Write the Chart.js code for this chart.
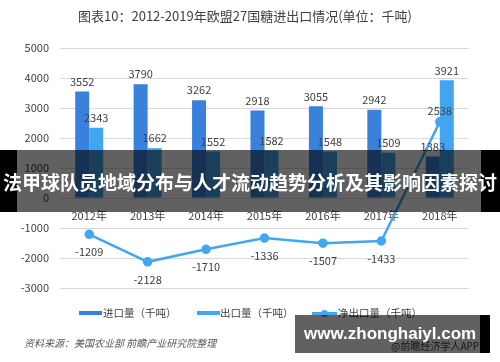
<!DOCTYPE html>
<html><head><meta charset="utf-8">
<script src="https://cdn.jsdelivr.net/npm/chart.js@4"></script>
<style>
html,body{margin:0;padding:0;background:#fff;}
#wrap{position:relative;width:500px;height:362px;overflow:hidden;font-family:"Noto Sans CJK SC","Noto Sans",sans-serif;}
#c{position:absolute;left:0;top:0;}
.abs{position:absolute;white-space:nowrap;}
#title{left:0;width:490px;top:7px;text-align:center;font-size:13px;color:#404040;line-height:18px;}
.lg{font-size:10.5px;color:#404040;line-height:14px;top:306px;}
.sw{position:absolute;}
#src{left:24px;top:336px;font-size:10px;color:#595959;font-style:italic;line-height:14px;}
#app{left:391px;top:339px;font-size:10px;color:#404040;line-height:14px;}
#banner{left:0;top:150px;width:500px;height:62px;}
#wm{left:295px;top:315px;width:195px;height:38px;}
</style></head>
<body><div id="wrap">
<canvas id="c" width="500" height="362"></canvas>
<div id="title" class="abs">图表10：2012-2019年欧盟27国糖进出口情况(单位：千吨)</div>
<div class="sw" style="left:79px;top:311px;width:23px;height:4px;background:#3a80dd"></div>
<div class="abs lg" style="left:103px">进口量（千吨）</div>
<div class="sw" style="left:197px;top:311px;width:23px;height:4px;background:#42a5f0"></div>
<div class="abs lg" style="left:220px">出口量（千吨）</div>
<div class="sw" style="left:312px;top:312px;width:25px;height:2.5px;background:#41a8f0"></div>
<div class="sw" style="left:321px;top:310px;width:7px;height:7px;border-radius:50%;background:#41a8f0"></div>
<div class="abs lg" style="left:338px">净出口量（千吨）</div>
<div id="src" class="abs">资料来源：美国农业部 前瞻产业研究院整理</div>
<div id="app" class="abs">@前瞻经济学人APP</div>
<div id="banner" class="abs">
  <div class="sw" style="left:0;top:0;width:17px;height:62px;background:#000"></div>
  <div class="sw" style="left:17px;top:0;width:464px;height:62px;background:rgba(0,0,0,0.62)"></div>
  <div class="sw" style="left:481px;top:0;width:19px;height:62px;background:#000"></div>
  <div class="abs" style="left:0;width:500px;top:19px;text-align:center;color:#fff;font-weight:bold;font-size:19px;line-height:26px;letter-spacing:0px;">法甲球队员地域分布与人才流动趋势分析及其影响因素探讨</div>
</div>
<div id="wm" class="abs">
  <div class="sw" style="left:0;top:0;width:185px;height:38px;background:rgba(0,0,0,0.62)"></div>
  <div class="sw" style="left:185px;top:0;width:10px;height:38px;background:#000"></div>
  <div class="abs" style="left:9px;top:8px;color:#fff;font-weight:bold;font-size:17px;line-height:22px;font-family:'Liberation Sans',Arial,sans-serif;">www.zhonghaiyl.com</div>
</div>
</div>
<script>
const categories = ['2012年','2013年','2014年','2015年','2016年','2017年','2018年'];
const importValues = [3552, 3790, 3262, 2918, 3055, 2942, 1383];
const exportValues = [2343, 1662, 1552, 1582, 1548, 1509, 3921];
const netValues = [-1209, -2128, -1710, -1336, -1507, -1433, 2538];
const yTicks = [-3000, -2000, -1000, 0, 1000, 2000, 3000, 4000, 5000];

const labelPlugin = {
  id: 'valueLabels',
  afterDatasetsDraw(chart) {
    const ctx = chart.ctx;
    ctx.save();
    ctx.font = '11px "Noto Sans CJK SC", "Noto Sans", sans-serif';
    ctx.fillStyle = '#404040';
    ctx.textAlign = 'center';
    ctx.textBaseline = 'middle';
    chart.data.datasets.forEach((ds, di) => {
      const meta = chart.getDatasetMeta(di);
      meta.data.forEach((el, i) => {
        const v = ds.data[i];
        let y;
        if (ds.type === 'line') {
          y = v < 0 ? el.y + 18 : el.y - 11;
        } else {
          y = el.y - 10;
        }
        ctx.fillText(String(v), el.x, y);
      });
    });
    ctx.restore();
  }
};

new Chart(document.getElementById('c'), {
  data: {
    labels: categories,
    datasets: [
      { type: 'bar', label: '进口量（千吨）', data: importValues, backgroundColor: '#3a80dd', order: 2,
        categoryPercentage: 0.48, barPercentage: 1.0 },
      { type: 'bar', label: '出口量（千吨）', data: exportValues, backgroundColor: '#42a5f0', order: 2,
        categoryPercentage: 0.48, barPercentage: 1.0 },
      { type: 'line', label: '净出口量（千吨）', data: netValues, borderColor: '#41a8f0', backgroundColor: '#41a8f0',
        borderWidth: 2.5, pointRadius: 3.5, pointHoverRadius: 3.5, tension: 0, order: 0 }
    ]
  },
  options: {
    responsive: false,
    animation: false,
    events: [],
    layout: { padding: { left: 0, right: 31, top: 48, bottom: 74 } },
    plugins: { legend: { display: false }, tooltip: { enabled: false } },
    scales: {
      x: {
        type: 'category',
        position: { y: 0 },
        grid: { display: false, drawTicks: true, tickLength: 8 },
        border: { display: false },
        ticks: { color: '#404040', font: { size: 11, family: '"Noto Sans CJK SC", "Noto Sans", sans-serif' }, padding: 3, maxRotation: 0 }
      },
      y: {
        min: -3000, max: 5000,
        afterFit: s => { s.width = 60; },
        afterBuildTicks: s => { s.ticks = yTicks.map(v => ({ value: v })); },
        grid: { color: '#d9d9d9', drawTicks: false, lineWidth: 1 },
        border: { display: false },
        ticks: { color: '#404040', padding: 11, callback: v => String(v),
                 font: { size: 11, family: '"Noto Sans CJK SC", "Noto Sans", sans-serif' } }
      }
    }
  },
  plugins: [labelPlugin]
});
</script>
</body></html>
